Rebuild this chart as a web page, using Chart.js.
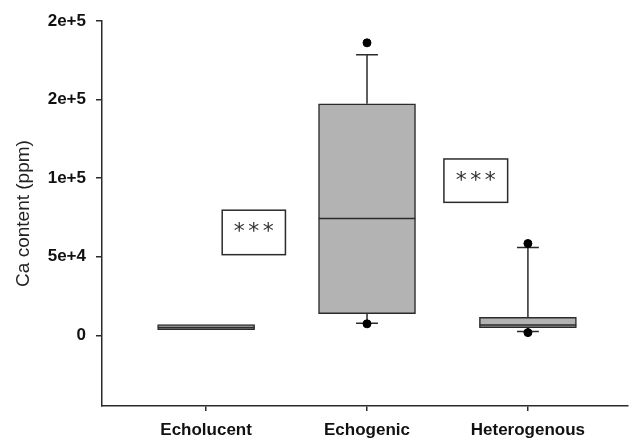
<!DOCTYPE html>
<html>
<head>
<meta charset="utf-8">
<script src="https://cdn.jsdelivr.net/npm/chart.js@4.4.0/dist/chart.umd.min.js"></script>
<style>
  html, body { margin: 0; padding: 0; background: #fff; }
  #wrap { width: 633px; height: 441px; }
</style>
</head>
<body>
<div id="wrap"><canvas id="caGraph" width="633" height="441"></canvas></div>
<script>
// box plot values (ppm)
const categories = ["Echolucent", "Echogenic", "Heterogenous"];
const q1 = [3500, 13700, 4900];
const median = [5000, 74300, 6600];
const q3 = [6800, 147300, 11500];
const whiskerLow = [null, 7700, 2400];
const whiskerHigh = [null, 178600, 55800];
const outliers = [[], [7300, 186100], [1700, 58400]];

const yTickValues = [0, 50000, 100000, 150000, 200000];
const yTickLabels = ["0", "5e+4", "1e+5", "2e+5", "2e+5"];

// significance boxes (x in category units, y in ppm)
const sigBoxes = [
    { x0: 1.10, x1: 1.493, y0: 51300, y1: 79600, text: "*" },
    { x0: 2.478, x1: 2.874, y0: 84600, y1: 112200, text: "*" }
];

const ink = '#2b2b2b';
const boxHalf = 0.3;
const capHalf = 0.068;

const boxData = categories.map((c, i) => ({ x: i + 1, y: [q1[i], q3[i]] }));

const whiskerData = [];
const capData = [];
categories.forEach((c, i) => {
    const x = i + 1;
    if (whiskerHigh[i] !== null) {
        whiskerData.push({ x: x, y: q3[i] }, { x: x, y: whiskerHigh[i] }, { x: x, y: null });
        capData.push({ x: x - capHalf, y: whiskerHigh[i] }, { x: x + capHalf, y: whiskerHigh[i] }, { x: x, y: null });
    }
    if (whiskerLow[i] !== null) {
        whiskerData.push({ x: x, y: q1[i] }, { x: x, y: whiskerLow[i] }, { x: x, y: null });
        capData.push({ x: x - capHalf, y: whiskerLow[i] }, { x: x + capHalf, y: whiskerLow[i] }, { x: x, y: null });
    }
});

const medianData = [];
categories.forEach((c, i) => {
    medianData.push({ x: i + 1 - boxHalf, y: median[i] }, { x: i + 1 + boxHalf, y: median[i] }, { x: i + 1, y: null });
});

const outlierData = [];
outliers.forEach((list, i) => list.forEach(v => outlierData.push({ x: i + 1, y: v })));

const lineStyle = {
    type: 'line',
    borderColor: ink,
    borderWidth: 1.5,
    pointRadius: 0,
    spanGaps: false,
    fill: false
};

const sigPlugin = {
    id: 'sigBoxes',
    afterDatasetsDraw(chart) {
        const { ctx, scales: { x, y } } = chart;
        ctx.save();
        sigBoxes.forEach(b => {
            const left = x.getPixelForValue(b.x0);
            const right = x.getPixelForValue(b.x1);
            const top = y.getPixelForValue(b.y1);
            const bottom = y.getPixelForValue(b.y0);
            ctx.fillStyle = '#fff';
            ctx.fillRect(left, top, right - left, bottom - top);
            ctx.strokeStyle = ink;
            ctx.lineWidth = 1.5;
            ctx.strokeRect(left, top, right - left, bottom - top);
            ctx.fillStyle = '#333';
            ctx.font = '22px "DejaVu Sans"';
            ctx.textAlign = 'center';
            ctx.textBaseline = 'alphabetic';
            const mid = (left + right) / 2;
            [-14.5, 0, 14.5].forEach(dx => ctx.fillText(b.text, mid + dx, top + 28));
        });
        ctx.restore();
    }
};

const ctx = document.getElementById('caGraph').getContext('2d');

new Chart(ctx, {
    type: 'bar',
    data: {
        datasets: [
            {
                label: 'box',
                data: boxData,
                backgroundColor: '#b3b3b3',
                borderColor: ink,
                borderWidth: 1.5,
                borderSkipped: false,
                barThickness: 97,
                order: 4
            },
            Object.assign({ label: 'whiskers', data: whiskerData, order: 3 }, lineStyle),
            Object.assign({ label: 'caps', data: capData, order: 2 }, lineStyle),
            Object.assign({ label: 'median', data: medianData, order: 1 }, lineStyle),
            {
                type: 'scatter',
                label: 'outliers',
                data: outlierData,
                pointRadius: 4,
                pointBackgroundColor: '#000',
                pointBorderColor: '#000',
                order: 0
            }
        ]
    },
    options: {
        responsive: false,
        animation: false,
        layout: { padding: { top: 21, right: 0, left: 0, bottom: 0 } },
        plugins: {
            legend: { display: false },
            tooltip: { enabled: false }
        },
        scales: {
            x: {
                type: 'linear',
                offset: false,
                min: 0.353,
                max: 3.622,
                afterBuildTicks(scale) {
                    scale.ticks = categories.map((c, i) => ({ value: i + 1 }));
                },
                afterFit(scale) {
                    scale.height = 35;
                },
                ticks: {
                    callback: (v) => categories[Math.round(v) - 1],
                    color: '#111',
                    padding: 9,
                    maxRotation: 0,
                    font: { family: 'Liberation Sans', size: 17, weight: 'bold' }
                },
                grid: { offset: false, drawOnChartArea: false, drawTicks: true, tickLength: 5, color: ink, lineWidth: 1.5 },
                border: { display: true, color: ink, width: 1.5 }
            },
            y: {
                type: 'linear',
                min: -45000,
                max: 200000,
                afterBuildTicks(scale) {
                    scale.ticks = yTickValues.map(v => ({ value: v }));
                },
                afterFit(scale) {
                    scale.width = 102;
                },
                ticks: {
                    callback: (v) => yTickLabels[yTickValues.indexOf(v)],
                    color: '#111',
                    padding: 10,
                    font: { family: 'Liberation Sans', size: 17, weight: 'bold' }
                },
                title: {
                    display: true,
                    text: 'Ca content (ppm)',
                    color: '#222',
                    padding: { top: 12, bottom: 0 },
                    font: { family: 'Liberation Sans', size: 19 }
                },
                grid: { drawOnChartArea: false, drawTicks: true, tickLength: 6, color: ink, lineWidth: 1.5 },
                border: { display: true, color: ink, width: 1.5 }
            }
        }
    },
    plugins: [sigPlugin]
});
</script>
</body>
</html>
